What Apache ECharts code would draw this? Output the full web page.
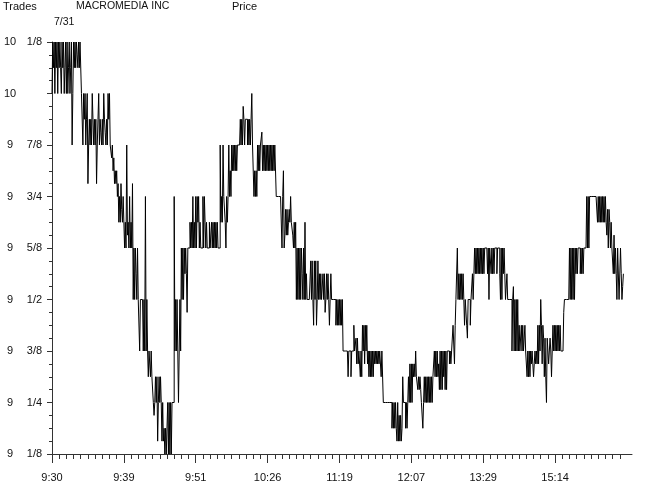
<!DOCTYPE html>
<html><head><meta charset="utf-8">
<script src="https://cdn.jsdelivr.net/npm/echarts@6/dist/echarts.min.js"></script>
<style>html,body{margin:0;padding:0;background:#fff}#c{width:646px;height:489px}</style>
</head><body><div id="c"></div>
<script>
// x-axis time labels (one every 100 trades)
const timeLabels = ['9:30','9:39','9:51','10:26','11:19','12:07','13:29','15:14'];
// y-axis tick labels: whole dollars and fraction
const priceInt  = ['9','9','9','9','9','9','9','10','10'];
const priceFrac = ['1/8','1/4','3/8','1/2','5/8','3/4','7/8','','1/8'];

// trade prices, in 32nds of a dollar above $9, grouped by time-label interval
const seg0930 = [32,36,34,36,32,36,34,36,32,36,34,36,34,32,36,34,36,32,34,36,
 32,36,32,34,36,32,34,36,28,32,36,34,36,34,36,35,34,36,34,36,
 36,32,32,28,32,30,32,28,30,32,25,28,30,28,30,28,32,30,28,30,
 28,30,25,28,30,32,28,30,29,28,30,28,32,30,29,28,30,28,32,30,
 32,28,28,27,28,26,27,25,26,25,26,24,25,22,24,22,25,23,22,24];
const seg0939 = [24,20,22,20,28,21,22,20,24,20,22,20,25,16,20,16,20,18,16,20,
 16,16,12,16,16,16,16,12,16,12,24,12,16,12,10,12,12,10,12,10,
 10,8,7,8,10,8,10,5,8,10,8,10,8,5,8,5,6,4,6,4,
 4,8,4,8,4,8,4,8,8,8,24,12,16,12,16,12,8,12,16,12,
 20,16,20,16,20,18,20,18,15,20,20,20,22,20,22,20,24,20,22,20];
const seg0951 = [24,20,24,22,24,20,22,20,20,20,24,20,24,22,20,22,20,20,20,22,
 20,20,22,20,22,20,22,20,22,20,22,20,20,20,28,22,24,22,28,24,
 24,22,20,24,22,24,28,24,26,24,28,26,28,26,28,26,28,26,28,28,
 28,28,30,28,30,28,31,30,28,30,30,30,28,30,28,30,28,30,32,28,
 28,24,26,24,26,24,28,26,28,26,28,28,29,26,28,26,28,26,28,26];
const seg1026 = [28,26,28,26,28,26,28,26,28,26,28,28,24,24,24,24,24,24,24,24,
 20,24,26,20,21,23,21,23,21,22,23,22,24,22,22,21,20,22,20,22,
 16,20,16,20,16,20,16,20,18,16,20,16,22,16,18,16,16,16,16,16,
 19,16,19,16,14,19,16,19,14,16,19,16,18,16,18,16,16,18,16,18,
 15,16,18,16,18,16,14,16,18,16,16,16,16,16,16,14,16,14,16,14];
const seg1119 = [16,14,16,14,16,12,12,12,12,12,12,12,10,12,12,12,10,12,12,12,
 14,12,12,13,11,13,11,12,12,10,12,10,14,12,14,11,14,12,14,11,
 12,10,12,10,12,10,12,10,12,11,12,11,12,11,12,11,12,12,10,12,
 12,8,8,8,8,8,8,8,8,8,8,8,8,6,8,6,8,6,8,6,
 5,8,5,7,5,7,5,6,10,8,8,8,6,8,6,8,10,8,11,8];
const seg1207 = [11,8,11,10,11,10,12,10,10,9,10,9,10,9,8,8,6,8,10,8,
 10,8,10,8,10,8,10,8,10,8,10,10,12,10,12,10,12,10,11,9,
 12,9,12,9,12,10,12,9,12,9,12,12,12,11,12,11,12,12,14,14,
 11,14,16,16,20,16,18,16,18,16,18,16,18,16,14,16,16,14,13,16,
 16,16,14,16,16,18,16,18,20,18,20,18,20,18,20,18,20,18,20,18];
const seg1329 = [20,18,20,20,20,20,18,20,16,20,20,18,20,18,20,18,20,20,20,18,
 20,20,20,18,16,20,16,20,18,20,18,16,16,18,16,16,16,16,16,16,
 12,16,17,12,16,12,16,12,16,12,14,12,12,14,12,14,12,12,14,12,
 12,10,12,10,12,10,12,11,12,11,10,11,12,11,12,11,14,11,14,12,
 16,14,11,14,13,10,13,10,8,13,13,11,11,13,12,10,10,14,12,14];
const seg1514 = [12,14,12,14,12,14,12,14,12,12,12,12,15,16,16,16,16,16,16,16,
 20,16,20,16,20,16,20,16,20,18,20,18,20,20,20,18,20,18,20,18,
 20,20,20,20,24,20,24,20,24,24,24,24,24,24,24,24,24,24,24,22,
 24,22,24,22,24,22,24,22,24,22,24,22,21,23,20,23,22,20,22,20,
 20,18,21,18,20,18,16,20,20,16,16,20,18,16,17,18];

const axisSlots = 808;
const all32 = [].concat(seg0930, seg0939, seg0951, seg1026, seg1119, seg1207, seg1329, seg1514);
const prices = all32.map(u => 9 + u / 32);
const cats = Array.from({length: axisSlots}, (_, i) => String(i + 1));

const FONT = 'Liberation Sans, Arial, sans-serif';
const AX = '#333';
const chart = echarts.init(document.getElementById('c'), null, {renderer: 'canvas'});
const isMajor = i => i % 100 === 0 && i / 100 < timeLabels.length;
chart.setOption({
  animation: false,
  backgroundColor: '#fff',
  grid: {left: 52, right: 14, top: 42, bottom: 35, containLabel: false},
  xAxis: [{
    type: 'category', data: cats, boundaryGap: false,
    axisLine: {show: true, lineStyle: {color: AX, width: 1}},
    axisTick: {show: true, interval: (i) => isMajor(i), length: 9, lineStyle: {color: AX}},
    axisLabel: {interval: (i) => isMajor(i), formatter: (v, i) => timeLabels[i / 100] || '',
      margin: 18, fontSize: 11, color: '#111', fontFamily: FONT},
    splitLine: {show: false}
  }, {
    type: 'category', data: cats, boundaryGap: false, position: 'bottom',
    axisLine: {show: false},
    axisTick: {show: true, interval: (i) => i % 10 === 0 && !isMajor(i) && i <= 790, length: 5, lineStyle: {color: AX}},
    axisLabel: {show: false},
    splitLine: {show: false}
  }],
  yAxis: {
    type: 'value', min: 9.125, max: 10.125, interval: 0.125,
    axisLine: {show: true, lineStyle: {color: AX, width: 1}},
    axisTick: {show: true, length: 5, lineStyle: {color: AX}},
    minorTick: {show: true, splitNumber: 4, length: 3, lineStyle: {color: AX}},
    splitLine: {show: false},
    axisLabel: {
      margin: 8,
      formatter: (v) => {
        const k = Math.round((v - 9.125) / 0.125);
        return '{i|' + priceInt[k] + '}{f|' + (priceFrac[k] || ' ') + '}';
      },
      rich: {
        i: {width: 12, align: 'right', fontSize: 11, color: '#111', fontFamily: FONT},
        f: {width: 19, align: 'left', padding: [0, 0, 0, 9], fontSize: 11, color: '#111', fontFamily: FONT}
      }
    }
  },
  graphic: [
    {type: 'text', left: 3, top: 1, style: {text: 'Trades', fontSize: 11, fill: '#111', fontFamily: FONT}},
    {type: 'text', left: 76, top: 1, style: {text: 'MACROMEDIA INC', fontSize: 10.5, fill: '#111', fontFamily: FONT}},
    {type: 'text', left: 232, top: 1, style: {text: 'Price', fontSize: 11, fill: '#111', fontFamily: FONT}},
    {type: 'text', left: 54, top: 17, style: {text: '7/31', fontSize: 10.5, fill: '#111', fontFamily: FONT}}
  ],
  series: [{
    type: 'line', data: prices, step: 'end', showSymbol: false, symbol: 'none',
    lineStyle: {color: '#000', width: 1}, silent: true, sampling: null
  }]
});
</script></body></html>
